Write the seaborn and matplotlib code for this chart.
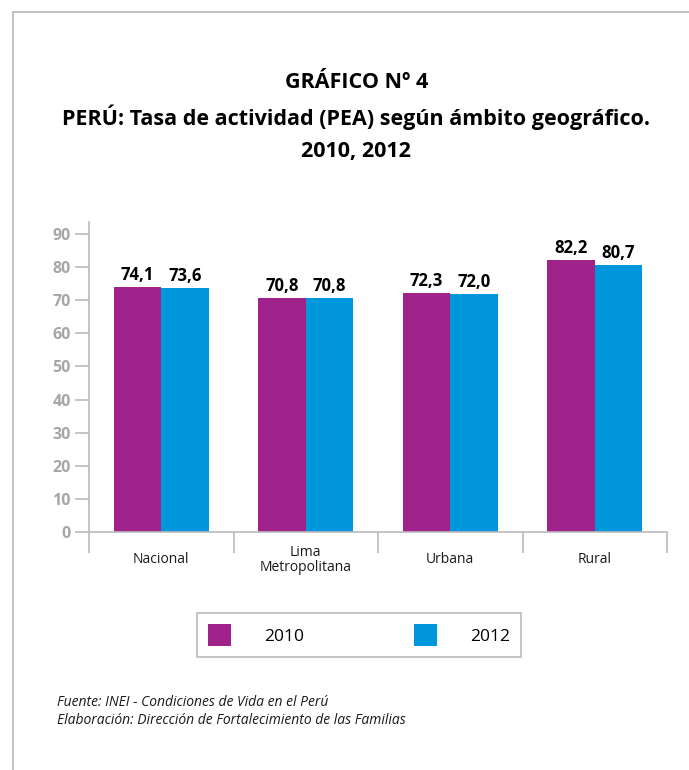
import pandas as pd
import matplotlib.pyplot as plt
import seaborn as sns
from matplotlib.lines import Line2D

ambitos = ["Nacional", "Lima\nMetropolitana", "Urbana", "Rural"]
anios = ["2010", "2012"]
tasa_2010 = [74.1, 70.8, 72.3, 82.2]
tasa_2012 = [73.6, 70.8, 72.0, 80.7]
yticks = [0, 10, 20, 30, 40, 50, 60, 70, 80, 90]
colores = ["#A0228B", "#0096DC"]

df = pd.DataFrame({
    "ambito": ambitos * 2,
    "anio": [anios[0]] * 4 + [anios[1]] * 4,
    "tasa": tasa_2010 + tasa_2012,
})

sns.set_style("white")
plt.rcParams['font.family'] = ['Open Sans', 'DejaVu Sans']
plt.rcParams['text.color'] = 'black'

fig = plt.figure(figsize=(6.89, 7.70), dpi=100)
ax = fig.add_axes([89 / 689, 1 - 532 / 770, (667 - 89) / 689, (532 - 222) / 770])

sns.barplot(data=df, x="ambito", y="tasa", hue="anio", palette=colores,
            width=0.66, saturation=1, linewidth=0, ax=ax, legend=True)

for cont in ax.containers:
    ax.bar_label(cont, labels=[f"{b.get_height():.1f}".replace(".", ",") for b in cont],
                 padding=2, fontsize=12, fontweight="bold", color="black")

ax.set_xlim(-0.5, 3.5)
ax.set_ylim(0, 93.6)
ax.set_yticks(yticks)
ax.set_xlabel("")
ax.set_ylabel("")
for s in ["top", "right"]:
    ax.spines[s].set_visible(False)
for s in ["left", "bottom"]:
    ax.spines[s].set_color("#BBBBBB")
    ax.spines[s].set_linewidth(1.2)

ax.tick_params(axis="y", direction="out", length=10, width=1.2, color="#BBBBBB",
               labelsize=11.5, labelcolor="#A6A6A6", pad=3, left=True)
for t in ax.get_yticklabels():
    t.set_fontweight("bold")
ax.tick_params(axis="x", which="major", length=0, labelsize=10, labelcolor="#1A1A1A", pad=20)
ax.set_xticks([-0.5, 0.5, 1.5, 2.5, 3.5], minor=True)
ax.tick_params(axis="x", which="minor", direction="out", length=15, width=1.2,
               color="#BBBBBB", bottom=True)
for t in ax.get_xticklabels():
    t.set_verticalalignment("center")
    t.set_linespacing(1.0)

# leyenda en caja abajo
handles, labels = ax.get_legend_handles_labels()
ax.get_legend().remove()
leg = fig.legend(handles, labels, loc="center", bbox_to_anchor=(359 / 689, 1 - 635 / 770),
                 ncol=2, frameon=True, fancybox=False, edgecolor="#AAAAAA",
                 fontsize=12.5, handlelength=1.35, handleheight=1.55, handletextpad=1.9,
                 columnspacing=6.3, borderpad=0.65, borderaxespad=0)
leg.get_frame().set_linewidth(1.2)
for t in leg.get_texts():
    t.set_color("black")

fig.text(0.517, 1 - 82 / 770, "GRÁFICO Nº 4", ha="center", va="center",
         fontsize=15.5, fontweight="bold", color="black")
fig.text(0.517, 1 - 117 / 770, "PERÚ: Tasa de actividad (PEA) según ámbito geográfico.",
         ha="center", va="center", fontsize=15.5, fontweight="bold", color="black")
fig.text(0.517, 1 - 151 / 770, "2010, 2012", ha="center", va="center",
         fontsize=15.5, fontweight="bold", color="black")

fig.text(57 / 689, 1 - 703 / 770, "Fuente: INEI - Condiciones de Vida en el Perú",
         ha="left", va="center", fontsize=10, style="italic", color="#1A1A1A")
fig.text(57 / 689, 1 - 721 / 770, "Elaboración: Dirección de Fortalecimiento de las Familias",
         ha="left", va="center", fontsize=10, style="italic", color="#1A1A1A")

# borde de la pagina
fig.add_artist(Line2D([13 / 689, 13 / 689], [0, 1 - 12 / 770], color="#B5B5B5", lw=1.2))
fig.add_artist(Line2D([13 / 689, 1], [1 - 12 / 770, 1 - 12 / 770], color="#B5B5B5", lw=1.2))

fig.savefig("out.png", dpi=100)
